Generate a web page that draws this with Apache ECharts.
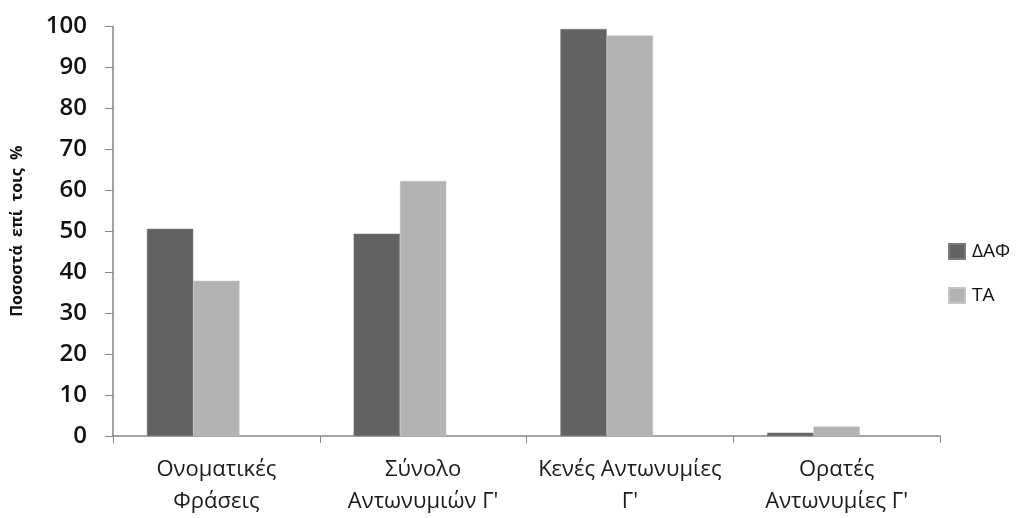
<!DOCTYPE html>
<html>
<head>
<meta charset="utf-8">
<script src="https://cdn.jsdelivr.net/npm/echarts@6/dist/echarts.min.js"></script>
<style>
  html, body { margin: 0; padding: 0; background: #fff; }
  #chart { width: 1023px; height: 518px; }
</style>
</head>
<body>
<div id="chart"></div>
<script>
// Categories and series values (percent)
const categories = ['Ονοματικές\nΦράσεις', 'Σύνολο\nΑντωνυμιών Γ\'', 'Κενές Αντωνυμίες\nΓ\'', 'Ορατές\nΑντωνυμίες Γ\''];
const seriesNames = ['ΔΑΦ', 'ΤΑ'];
const dafValues = [50.6, 49.4, 99.4, 0.8];
const taValues = [37.9, 62.3, 97.8, 2.3];
// an empty third slot keeps the pairs left of the category centre
const emptyValues = [null, null, null, null];
const yTicks = { min: 0, max: 100, interval: 10 };

const chart = echarts.init(document.getElementById('chart'), null, { renderer: 'canvas' });

const axisGray = '#868686';

chart.setOption({
  animation: false,
  backgroundColor: '#ffffff',
  textStyle: { fontFamily: 'Open Sans' },
  grid: { left: 113, right: 83, top: 26.5, bottom: 78.7, containLabel: false },
  legend: {
    data: seriesNames,
    orient: 'vertical',
    left: 948,
    top: 242,
    padding: 0,
    itemWidth: 16,
    itemHeight: 15,
    itemGap: 25,
    icon: 'rect',
    textStyle: { fontSize: 19, color: '#111', fontFamily: 'Open Sans', padding: [0, 0, 0, 2] }
  },
  xAxis: {
    type: 'category',
    data: categories,
    axisLine: { lineStyle: { color: axisGray, width: 1.5 } },
    axisTick: { show: true, length: 7, inside: false, lineStyle: { color: axisGray } },
    axisLabel: {
      interval: 0,
      margin: 18,
      fontSize: 22,
      lineHeight: 32,
      color: '#1a1a1a',
      fontFamily: 'Open Sans'
    },
    splitLine: { show: false }
  },
  yAxis: {
    type: 'value',
    min: yTicks.min,
    max: yTicks.max,
    interval: yTicks.interval,
    name: 'Ποσοστά  επί  τοις  %',
    nameLocation: 'middle',
    nameGap: 88,
    nameRotate: 90,
    nameTextStyle: { fontSize: 16, fontWeight: 'bold', color: '#111', fontFamily: 'Open Sans' },
    axisLine: { show: true, lineStyle: { color: axisGray, width: 1.5 } },
    axisTick: { show: true, length: 8, lineStyle: { color: axisGray } },
    axisLabel: {
      margin: 26,
      fontSize: 24,
      fontWeight: 600,
      color: '#111',
      fontFamily: 'Open Sans'
    },
    splitLine: { show: false }
  },
  series: [
    {
      name: seriesNames[0],
      type: 'bar',
      data: dafValues,
      barGap: '0%',
      barCategoryGap: '32.8%',
      itemStyle: { color: '#626262', borderColor: '#7a7a7a', borderWidth: 0.5 }
    },
    {
      name: seriesNames[1],
      type: 'bar',
      data: taValues,
      itemStyle: { color: '#b3b3b3', borderColor: '#c6c6c6', borderWidth: 0.5 }
    },
    {
      name: '',
      type: 'bar',
      data: emptyValues,
      itemStyle: { color: 'transparent' }
    }
  ]
});
</script>
</body>
</html>
